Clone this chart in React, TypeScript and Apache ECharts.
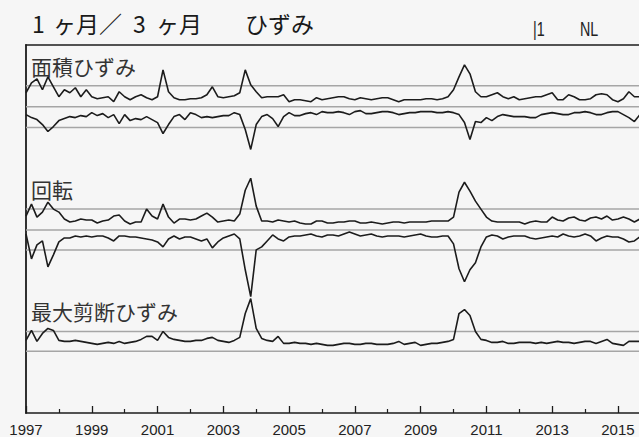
import React, { useEffect, useRef } from "react";
import * as echarts from "echarts";

// ---- time axis (two-month samples) ----
const START_YEAR = 1997;
const STEP_YEARS = 1 / 6;
const X_MIN = 1997;
const X_MAX = 2015.64;
const LABEL_YEARS = [1997, 1999, 2001, 2003, 2005, 2007, 2009, 2011, 2013, 2015];
const MINOR_YEARS = [1998, 2000, 2002, 2004, 2006, 2008, 2010, 2012, 2014];

// ---- traces (deviation from each panel's zero line, arbitrary units) ----
const areaUpper = [
  14, 24, 28, 17, 30, 20, 10, 17, 14, 19,
  10, 17, 10, 8, 9, 10, 5, 15, 10, 7,
  10, 12, 9, 7, 10, 37, 15, 9, 7, 7,
  8, 8, 9, 12, 20, 10, 9, 10, 11, 14,
  37, 22, 15, 9, 10, 10, 10, 12, 5, 7,
  7, 6, 5, 9,
  7, 8, 9, 10, 10, 8, 7, 9, 8, 7,
  8, 9, 9, 7, 5, 7, 7, 7, 7, 8,
  8, 7, 8, 10, 17, 30, 42, 33, 15, 10,
  10, 12, 14, 10, 8, 10, 7, 8, 9, 10,
  10, 12, 14, 7, 7, 12, 10, 7, 7, 8,
  12, 13, 12, 7, 5, 8, 15, 10, 10,
];
const areaLower = [
  -8, -11, -13, -18, -25, -20, -14, -12, -10, -11,
  -9, -10, -6, -9, -7, -11, -8, -17, -8, -14,
  -12, -13, -10, -13, -16, -27, -18, -10, -8, -13,
  -6, -8, -11, -10, -11, -10, -9, -9, -6, -8,
  -23, -43, -18, -10, -8, -12, -20, -10, -6, -9,
  -9, -7, -6, -8,
  -5, -6, -6, -5, -6, -8, -5, -4, -7, -7,
  -6, -5, -5, -6, -8, -7, -6, -6, -5, -5,
  -5, -6, -6, -5, -6, -8, -16, -33, -15, -16,
  -11, -14, -10, -8, -9, -10, -10, -10, -11, -11,
  -8, -7, -6, -7, -8, -8, -6, -6, -5, -6,
  -8, -8, -6, -5, -5, -8, -11, -15, -8,
];
const rotationUpper = [
  14, 26, 13, 18, 28, 21, 18, 11, 8, 9,
  11, 10, 10, 7, 9, 10, 14, 15, 9, 6,
  8, 8, 21, 14, 11, 26, 13, 7, 11, 11,
  10, 11, 14, 17, 13, 8, 9, 10, 9, 16,
  40, 52, 24, 9, 9, 8, 10, 9, 8, 9,
  7, 6, 6, 9,
  9, 7, 7, 8, 8, 9, 9, 7, 7, 8,
  7, 6, 7, 8, 8, 7, 8, 8, 8, 8,
  9, 9, 9, 9, 13, 38, 48, 39, 29, 21,
  13, 9, 8, 8, 8, 8, 8, 6, 8, 9,
  8, 8, 13, 10, 9, 12, 13, 10, 9, 12,
  13, 11, 14, 10, 11, 13, 11, 8, 11,
];
const rotationLower = [
  -4, -29, -15, -11, -37, -25, -12, -8, -8, -6,
  -7, -6, -7, -6, -6, -8, -11, -6, -6, -7,
  -7, -8, -9, -10, -12, -17, -9, -6, -9, -7,
  -7, -9, -11, -9, -18, -12, -8, -6, -4, -9,
  -40, -67, -20, -17, -11, -5, -9, -11, -7, -6,
  -6, -5, -4, -6,
  -7, -5, -5, -6, -4, -2, -4, -6, -5, -4,
  -6, -7, -6, -6, -6, -7, -6, -5, -4, -6,
  -7, -7, -6, -6, -14, -39, -52, -40, -33, -17,
  -7, -5, -6, -9, -7, -6, -6, -6, -8, -9,
  -8, -7, -6, -7, -4, -6, -7, -6, -4, -6,
  -11, -8, -6, -7, -7, -9, -12, -11, -7,
];
const maxShear = [
  11, 21, 10, 18, 23, 21, 11, 10, 10, 11,
  10, 9, 8, 7, 8, 9, 8, 10, 8, 9,
  10, 12, 15, 15, 11, 20, 14, 12, 11, 10,
  10, 11, 11, 13, 14, 11, 10, 9, 11, 14,
  38, 53, 23, 13, 11, 10, 15, 8, 8, 9,
  8, 8, 7, 8,
  7, 6, 6, 7, 8, 8, 7, 7, 8, 8,
  7, 7, 7, 8, 10, 7, 8, 9, 6, 7,
  8, 8, 9, 10, 12, 38, 42, 36, 20, 12,
  11, 9, 9, 10, 8, 8, 9, 9, 9, 8,
  9, 8, 9, 10, 9, 9, 8, 9, 10, 10,
  8, 10, 12, 8, 7, 6, 10, 10, 10,
];

// reference levels of each panel (relative to its zero line)
const areaRefs = [21, 0, -21];
const rotationRefs = [21, 0, -20];
const shearRefs = [20, 0];

const PANELS = [
  { label: "面積ひずみ", base: 308, refs: areaRefs, traces: [areaUpper, areaLower], labelY: 66 },
  { label: "回転", base: 184, refs: rotationRefs, traces: [rotationUpper, rotationLower], labelY: 189 },
  { label: "最大剪断ひずみ", base: 62, refs: shearRefs, traces: [maxShear], labelY: 311 },
];

const INK = "#1c1c1c";
const CJK = '"Noto Sans CJK JP", "Noto Sans", sans-serif';

function buildOption(): echarts.EChartsOption {
  const series: any[] = [];
  PANELS.forEach((p) => {
    p.refs.forEach((r) => {
      series.push({
        type: "line",
        z: 1,
        silent: true,
        symbol: "none",
        xAxisIndex: 0,
        data: [
          [X_MIN, p.base + r],
          [X_MAX, p.base + r],
        ],
        lineStyle: { color: "#a6a6a6", width: 1.5 },
      });
    });
    p.traces.forEach((t) => {
      series.push({
        type: "line",
        z: 3,
        silent: true,
        symbol: "none",
        xAxisIndex: 0,
        data: t.map((v, i) => [START_YEAR + i * STEP_YEARS, p.base + v]),
        lineStyle: { color: INK, width: 1.6 },
      });
    });
  });

  const labelTexts = PANELS.map((p) => ({
    type: "text",
    x: 31,
    y: p.labelY,
    style: {
      text: p.label,
      font: `21px ${CJK}`,
      fill: "#333",
      verticalAlign: "middle",
      textVerticalAlign: "middle",
    },
  }));

  const titleFont = `23px ${CJK}`;
  const titlePieces = [
    { t: "1", x: 32 },
    { t: "ヶ月／", x: 53 },
    { t: "3", x: 133 },
    { t: "ヶ月", x: 156 },
    { t: "ひずみ", x: 245 },
  ].map((p) => ({
    type: "text",
    x: p.x,
    y: 23,
    style: {
      text: p.t,
      font: titleFont,
      fill: "#1a1a1a",
      verticalAlign: "middle",
      textVerticalAlign: "middle",
    },
  }));

  const corner = [
    { t: "|1", x: 533 },
    { t: "NL", x: 580 },
  ].map((p) => ({
    type: "text",
    x: p.x,
    y: 29,
    scaleX: 0.68,
    style: {
      text: p.t,
      font: '21px "Liberation Sans", sans-serif',
      fill: "#222222",
      verticalAlign: "middle",
      textVerticalAlign: "middle",
    },
  }));

  return {
    animation: false,
    backgroundColor: "#f6f6f6",
    grid: { left: 26, right: 0, top: 45, bottom: 22, containLabel: false },
    xAxis: [
      {
        type: "value",
        position: "bottom",
        min: X_MIN,
        max: X_MAX,
        axisLine: { show: true, lineStyle: { color: INK, width: 1.6 } },
        axisTick: {
          show: true,
          inside: true,
          length: 7,
          customValues: LABEL_YEARS,
          lineStyle: { color: INK, width: 1.3 },
        },
        axisLabel: {
          show: true,
          customValues: LABEL_YEARS,
          formatter: (v: number) => String(v),
          fontSize: 15,
          fontFamily: '"Liberation Sans", Arial, sans-serif',
          color: "#222",
          margin: 9,
        },
        splitLine: { show: false },
      },
      {
        type: "value",
        position: "bottom",
        min: X_MIN,
        max: X_MAX,
        axisLine: { show: false },
        axisTick: {
          show: true,
          inside: true,
          length: 4,
          customValues: MINOR_YEARS,
          lineStyle: { color: INK, width: 1.2 },
        },
        axisLabel: { show: false },
        splitLine: { show: false },
      },
      {
        type: "value",
        position: "top",
        min: X_MIN,
        max: X_MAX,
        axisLine: { show: true, lineStyle: { color: INK, width: 1.6 } },
        axisTick: { show: false },
        axisLabel: { show: false },
        splitLine: { show: false },
      },
    ],
    yAxis: {
      type: "value",
      min: 0,
      max: 370,
      axisLine: { show: true, lineStyle: { color: INK, width: 1.8 } },
      axisTick: { show: false },
      axisLabel: { show: false },
      splitLine: { show: false },
    },
    graphic: [...titlePieces, ...corner, ...labelTexts] as any,
    series,
  };
}

export default function App() {
  const ref = useRef<HTMLDivElement>(null);
  useEffect(() => {
    document.body.style.margin = "0";
    const el = ref.current!;
    const chart = echarts.init(el, null, { renderer: "svg" });
    chart.setOption(buildOption());
    return () => chart.dispose();
  }, []);
  return (
    <div
      ref={ref}
      style={{ position: "absolute", left: 0, top: 0, width: 639, height: 437, background: "#f6f6f6" }}
    />
  );
}
